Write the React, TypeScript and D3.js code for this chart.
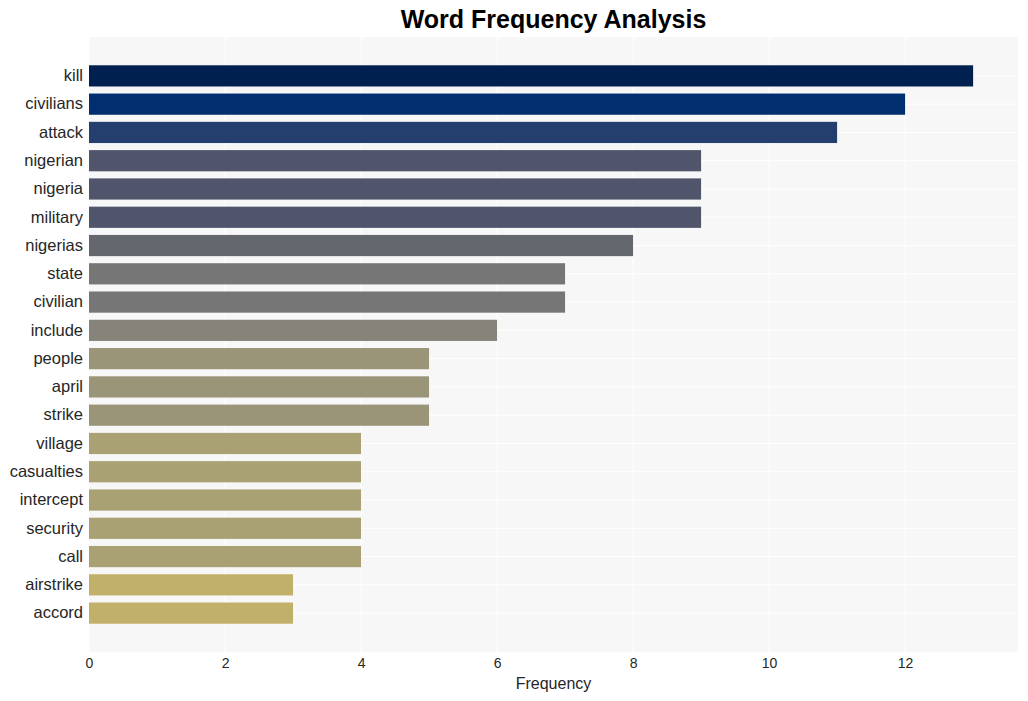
import { useEffect, useRef } from "react";
import * as d3 from "d3";

const words = [
  "kill", "civilians", "attack", "nigerian", "nigeria", "military", "nigerias",
  "state", "civilian", "include", "people", "april", "strike", "village",
  "casualties", "intercept", "security", "call", "airstrike", "accord",
];
const counts = [13, 12, 11, 9, 9, 9, 8, 7, 7, 6, 5, 5, 5, 4, 4, 4, 4, 4, 3, 3];
const barColors = [
  "#00204f", "#002e6f", "#243f6e", "#50556c", "#50556c", "#50556c", "#65676f",
  "#767676", "#767676", "#86837a", "#9a9478", "#9a9478", "#9a9478", "#a9a073",
  "#a9a073", "#a9a073", "#a9a073", "#a9a073", "#c1b06a", "#c1b06a",
];
const xTicks = [0, 2, 4, 6, 8, 10, 12];

const width = 1028;
const height = 701;
const margin = { top: 37, right: 10, bottom: 49, left: 89 };
const font = "'Liberation Sans', Arial, sans-serif";

export default function App() {
  const svgRef = useRef<SVGSVGElement>(null);

  useEffect(() => {
    if (!svgRef.current) return;
    const svg = d3.select(svgRef.current);
    svg.selectAll("*").remove();

    const x = d3.scaleLinear([0, 13.66], [margin.left, width - margin.right]);
    const y = d3
      .scaleBand<string>()
      .domain(words)
      .range([margin.top, height - margin.bottom])
      .paddingInner(0.25)
      .paddingOuter(1.0);

    // plot background
    svg
      .append("rect")
      .attr("x", margin.left)
      .attr("y", margin.top)
      .attr("width", width - margin.right - margin.left)
      .attr("height", height - margin.bottom - margin.top)
      .attr("fill", "#f7f7f7");

    // grid
    svg
      .append("g")
      .selectAll("line")
      .data(xTicks)
      .join("line")
      .attr("x1", (d) => x(d))
      .attr("x2", (d) => x(d))
      .attr("y1", margin.top)
      .attr("y2", height - margin.bottom)
      .attr("stroke", "#fff")
      .attr("stroke-width", 1);

    svg
      .append("g")
      .selectAll("line")
      .data(words)
      .join("line")
      .attr("x1", margin.left)
      .attr("x2", width - margin.right)
      .attr("y1", (d) => y(d)! + y.bandwidth() / 2)
      .attr("y2", (d) => y(d)! + y.bandwidth() / 2)
      .attr("stroke", "#fff")
      .attr("stroke-width", 1);

    // bars
    svg
      .append("g")
      .selectAll("rect")
      .data(words)
      .join("rect")
      .attr("x", x(0))
      .attr("y", (d) => y(d)!)
      .attr("width", (_, i) => x(counts[i]) - x(0))
      .attr("height", y.bandwidth())
      .attr("fill", (_, i) => barColors[i]);

    // y labels
    svg
      .append("g")
      .attr("transform", `translate(${margin.left},0)`)
      .call(d3.axisLeft(y).tickSize(0).tickPadding(6))
      .call((g) => g.select(".domain").remove())
      .call((g) =>
        g
          .selectAll("text")
          .attr("font-size", 16.5)
          .attr("font-family", font)
          .attr("fill", "#262626")
      );

    // x axis
    svg
      .append("g")
      .attr("transform", `translate(0,${height - margin.bottom})`)
      .call(d3.axisBottom(x).tickValues(xTicks).tickSize(0).tickPadding(6))
      .call((g) => g.select(".domain").remove())
      .call((g) =>
        g
          .selectAll("text")
          .attr("font-size", 14)
          .attr("font-family", font)
          .attr("fill", "#262626")
      );

    svg
      .append("text")
      .attr("x", (margin.left + width - margin.right) / 2)
      .attr("y", 689)
      .attr("text-anchor", "middle")
      .attr("font-size", 16)
      .attr("font-family", font)
      .attr("fill", "#262626")
      .text("Frequency");

    svg
      .append("text")
      .attr("x", (margin.left + width - margin.right) / 2)
      .attr("y", 28)
      .attr("text-anchor", "middle")
      .attr("font-size", 25)
      .attr("font-weight", "bold")
      .attr("font-family", font)
      .attr("fill", "#000")
      .text("Word Frequency Analysis");
  }, []);

  return (
    <svg
      ref={svgRef}
      width={width}
      height={height}
      style={{ position: "absolute", left: 0, top: 0, background: "#fff" }}
    />
  );
}
